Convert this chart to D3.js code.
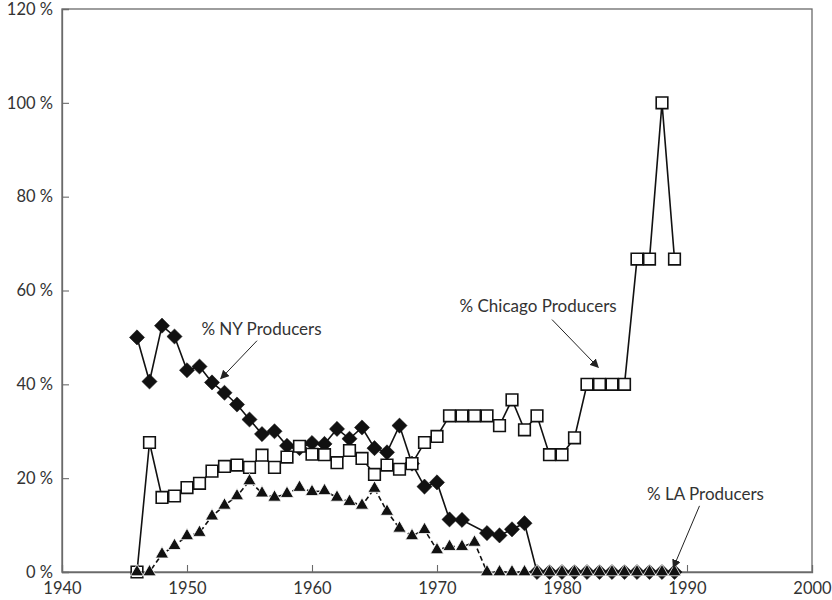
<!DOCTYPE html>
<html>
<head>
<meta charset="utf-8">
<script src="https://cdn.jsdelivr.net/npm/d3@7"></script>
<style>
  html, body { margin: 0; padding: 0; background: #fff; }
  svg text { font-family: Lato, "Open Sans", sans-serif; fill: #333; }
</style>
</head>
<body>
<svg id="chart" width="832" height="600"></svg>
<script>
// Years covered by the three producer series
const years = [1946, 1947, 1948, 1949, 1950, 1951, 1952, 1953, 1954, 1955,
               1956, 1957, 1958, 1959, 1960, 1961, 1962, 1963, 1964, 1965,
               1966, 1967, 1968, 1969, 1970, 1971, 1972, 1973, 1974, 1975,
               1976, 1977, 1978, 1979, 1980, 1981, 1982, 1983, 1984, 1985,
               1986, 1987, 1988, 1989];

// Share of producers (%) per year; null = no observation
const nyShare = [50.0, 40.6, 52.5, 50.2, 43.0, 43.8, 40.4, 38.2, 35.7, 32.5,
                 29.4, 30.0, 26.9, 26.4, 27.5, 27.3, 30.5, 28.4, 30.8, 26.4,
                 25.5, 31.2, 23.1, 18.2, 19.1, 11.2, 11.1, null, 8.3, 7.8,
                 9.1, 10.4, 0, 0, 0, 0, 0, 0, 0, 0,
                 0, 0, 0, 0];
const chicagoShare = [0, 27.6, 15.9, 16.2, 18.0, 18.9, 21.5, 22.5, 22.8, 22.3,
                      24.9, 22.3, 24.5, 26.8, 25.1, 25.0, 23.3, 25.9, 24.2, 20.8,
                      22.8, 21.9, 23.1, 27.6, 28.9, 33.3, 33.3, 33.3, 33.3, 31.2,
                      36.7, 30.3, 33.3, 25.0, 25.0, 28.6, 40.0, 40.0, 40.0, 40.0,
                      66.7, 66.7, 100.0, 66.7];
const laShare = [0, 0, 3.8, 5.6, 7.7, 8.4, 11.9, 14.2, 16.2, 19.4,
                 16.8, 15.9, 16.7, 18.0, 17.1, 17.3, 15.9, 15.0, 14.2, 17.8,
                 12.9, 9.3, 7.7, 9.0, 4.7, 5.4, 5.4, 6.3, 0, 0,
                 0, 0, 0, 0, 0, 0, 0, 0, 0, 0,
                 0, 0, 0, 0];

const xTicks = [1940, 1950, 1960, 1970, 1980, 1990, 2000];
const yTicks = [0, 20, 40, 60, 80, 100, 120];

// Callout labels: text, anchor of text, arrow from -> to (in data units)
const callouts = [
  { text: "% NY Producers", tx: 1951.15, ty: 50.5, from: [1955.6, 49.3], to: [1952.7, 41.2] },
  { text: "% Chicago Producers", tx: 1971.8, ty: 55.5, from: [1979.2, 53.8], to: [1982.9, 43.6] },
  { text: "% LA Producers", tx: 1986.8, ty: 15.3, from: [1991.0, 14.1], to: [1988.9, 0.9] }
];

const svg = d3.select("#chart");
const x = d3.scaleLinear().domain([1940, 2000]).range([62, 812]);
const y = d3.scaleLinear().domain([0, 120]).range([572, 9]);

const axisColor = "#6a6a6a";

// Frame
svg.append("rect")
  .attr("x", x(1940)).attr("y", y(120))
  .attr("width", x(2000) - x(1940)).attr("height", y(0) - y(120))
  .attr("fill", "none").attr("stroke", axisColor).attr("stroke-width", 1.3);

// Axes with inward ticks
const xAxis = svg.append("g").attr("transform", `translate(0,${y(0)})`)
  .call(d3.axisBottom(x).tickValues(xTicks).tickSize(-7).tickPadding(10).tickFormat(d3.format("d")));
const yAxis = svg.append("g").attr("transform", `translate(${x(1940)},0)`)
  .call(d3.axisLeft(y).tickValues(yTicks).tickSize(-7).tickPadding(9).tickFormat(d => d + " %"));
[xAxis, yAxis].forEach(g => {
  g.select(".domain").attr("stroke", axisColor).attr("stroke-width", 1.3);
  g.selectAll(".tick line").attr("stroke", axisColor).attr("stroke-width", 1.1);
  g.selectAll(".tick text").style("font-family", "Lato, 'Open Sans', sans-serif")
    .attr("font-size", 16.5).attr("fill", "#333");
});
xAxis.selectAll(".tick line").filter(d => d === 1940 || d === 2000).remove();
yAxis.selectAll(".tick line").filter(d => d === 0 || d === 120).remove();

function seriesPoints(values) {
  return years.map((yr, i) => ({ yr, v: values[i] })).filter(p => p.v !== null);
}

const line = d3.line().x(p => x(p.yr)).y(p => y(p.v));

function drawSeries(values, opts) {
  const pts = seriesPoints(values);
  const g = svg.append("g");
  g.append("path").datum(pts).attr("d", line)
    .attr("fill", "none").attr("stroke", "#111").attr("stroke-width", 1.6)
    .attr("stroke-dasharray", opts.dash || null);
  g.selectAll("path.mark").data(pts).join("path")
    .attr("class", "mark")
    .attr("d", d3.symbol().type(opts.symbol).size(opts.size))
    .attr("transform", p => `translate(${x(p.yr)},${y(p.v)})${opts.rotate ? " rotate(45)" : ""}`)
    .attr("fill", opts.fill).attr("stroke", opts.stroke).attr("stroke-width", opts.strokeWidth);
}

// NY: black diamonds, solid line
drawSeries(nyShare, { symbol: d3.symbolSquare, size: 115, rotate: true, fill: "#111", stroke: "#111", strokeWidth: 0.5 });
// Chicago: open squares, solid line
drawSeries(chicagoShare, { symbol: d3.symbolSquare, size: 135, fill: "#fff", stroke: "#111", strokeWidth: 1.6 });
// LA: black triangles, dashed line
drawSeries(laShare, { symbol: d3.symbolTriangle, size: 75, dash: "5,3", fill: "#111", stroke: "#fff", strokeWidth: 0.8 });

// Callouts
svg.append("defs").append("marker")
  .attr("id", "arrow").attr("viewBox", "0 0 10 10").attr("refX", 9).attr("refY", 5)
  .attr("markerWidth", 9).attr("markerHeight", 9).attr("markerUnits", "userSpaceOnUse")
  .attr("orient", "auto")
  .append("path").attr("d", "M0,0 L10,5 L0,10 Z").attr("fill", "#222");

const cg = svg.append("g");
callouts.forEach(c => {
  cg.append("text").attr("x", x(c.tx)).attr("y", y(c.ty))
    .attr("font-size", 17).text(c.text);
  cg.append("line")
    .attr("x1", x(c.from[0])).attr("y1", y(c.from[1]))
    .attr("x2", x(c.to[0])).attr("y2", y(c.to[1]))
    .attr("stroke", "#222").attr("stroke-width", 1)
    .attr("marker-end", "url(#arrow)");
});
</script>
</body>
</html>
